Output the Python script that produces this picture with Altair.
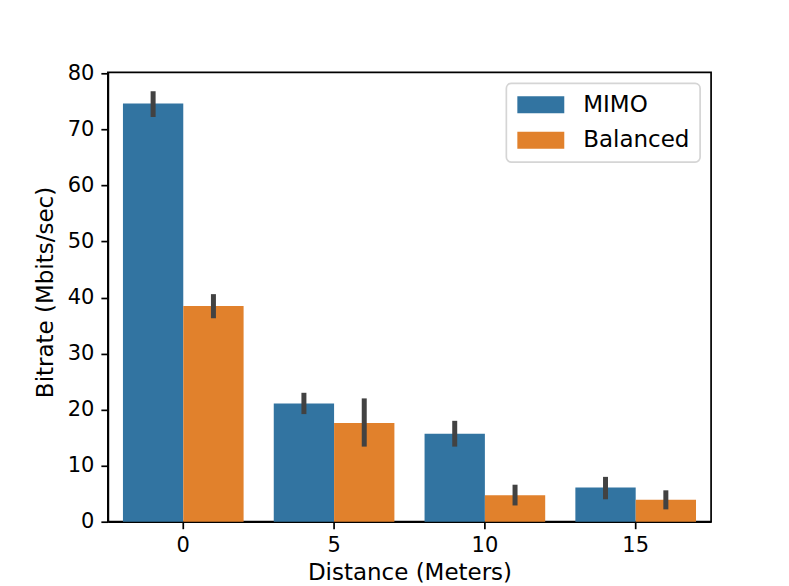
import altair as alt
import pandas as pd

distances = ["0", "5", "10", "15"]
methods = ["MIMO", "Balanced"]
mimo_mean = [74.6, 21.1, 15.7, 6.1]
mimo_low = [72.2, 19.2, 13.4, 4.0]
mimo_high = [76.8, 23.0, 18.0, 8.0]
bal_mean = [38.5, 17.6, 4.7, 3.9]
bal_low = [36.3, 13.4, 2.9, 2.2]
bal_high = [40.6, 22.0, 6.6, 5.6]
y_ticks = [0, 10, 20, 30, 40, 50, 60, 70, 80]

rows = []
for i, d in enumerate(distances):
    rows.append(dict(distance=d, method="MIMO", mean=mimo_mean[i], low=mimo_low[i], high=mimo_high[i]))
    rows.append(dict(distance=d, method="Balanced", mean=bal_mean[i], low=bal_low[i], high=bal_high[i]))
df = pd.DataFrame(rows)

FONT = "DejaVu Sans"

x = alt.X("distance:N", sort=distances, title="Distance (Meters)",
          scale=alt.Scale(paddingInner=0.2, paddingOuter=0.1),
          axis=alt.Axis(labelAngle=0, labelPadding=6, titleY=58.3,
                        titleBaseline="alphabetic"))
xoff = alt.XOffset("method:N", sort=methods,
                   scale=alt.Scale(domain=methods, paddingInner=0, paddingOuter=0))
yscale = alt.Scale(domain=[0, 80.18], nice=False, zero=True)

bars = alt.Chart(df).mark_bar().encode(
    x=x,
    xOffset=xoff,
    y=alt.Y("mean:Q", title="Bitrate (Mbits/sec)", scale=yscale,
            axis=alt.Axis(values=y_ticks, titleX=-55.3, titleY=220,
                          titleBaseline="alphabetic", titleAngle=270, titleAlign="center")),
    color=alt.Color("method:N", sort=methods,
                    scale=alt.Scale(domain=methods, range=["#3274a1", "#e1812c"]),
                    legend=alt.Legend(title=None, orient="top-right",
                                      symbolType="M-2.35,-0.85H2.35V0.85H-2.35Z",
                                      symbolSize=400)),
)

errs = alt.Chart(df).mark_rule(color="#424242", strokeWidth=5).encode(
    x=x,
    xOffset=xoff,
    y=alt.Y("low:Q", scale=yscale),
    y2="high:Q",
)

chart = alt.layer(bars, errs).properties(
    width=604, height=450,
    autosize=alt.AutoSizeParams(type="none"),
    padding={"left": 100, "top": 64, "right": 70, "bottom": 64},
    background="white",
).configure_axis(
    labelFont=FONT, labelFontSize=21, labelColor="black",
    titleFont=FONT, titleFontSize=23, titleFontWeight="normal", titleColor="black",
    domainColor="black", domainWidth=1.7, tickColor="black", tickWidth=1.7,
    tickSize=7, labelPadding=7, grid=False,
).configure_view(
    stroke="black", strokeWidth=1.7,
).configure_legend(
    labelFont=FONT, labelFontSize=23, labelColor="black", labelLimit=400,
    symbolStrokeWidth=0, symbolOpacity=1, symbolOffset=13, labelOffset=31,
    rowPadding=11.5, padding=10, strokeColor="#d5d5d5", strokeWidth=1.7,
    cornerRadius=5, fillColor="white", offset=11,
)

chart.save("out.html", embed_options={"renderer": "svg", "actions": False})
